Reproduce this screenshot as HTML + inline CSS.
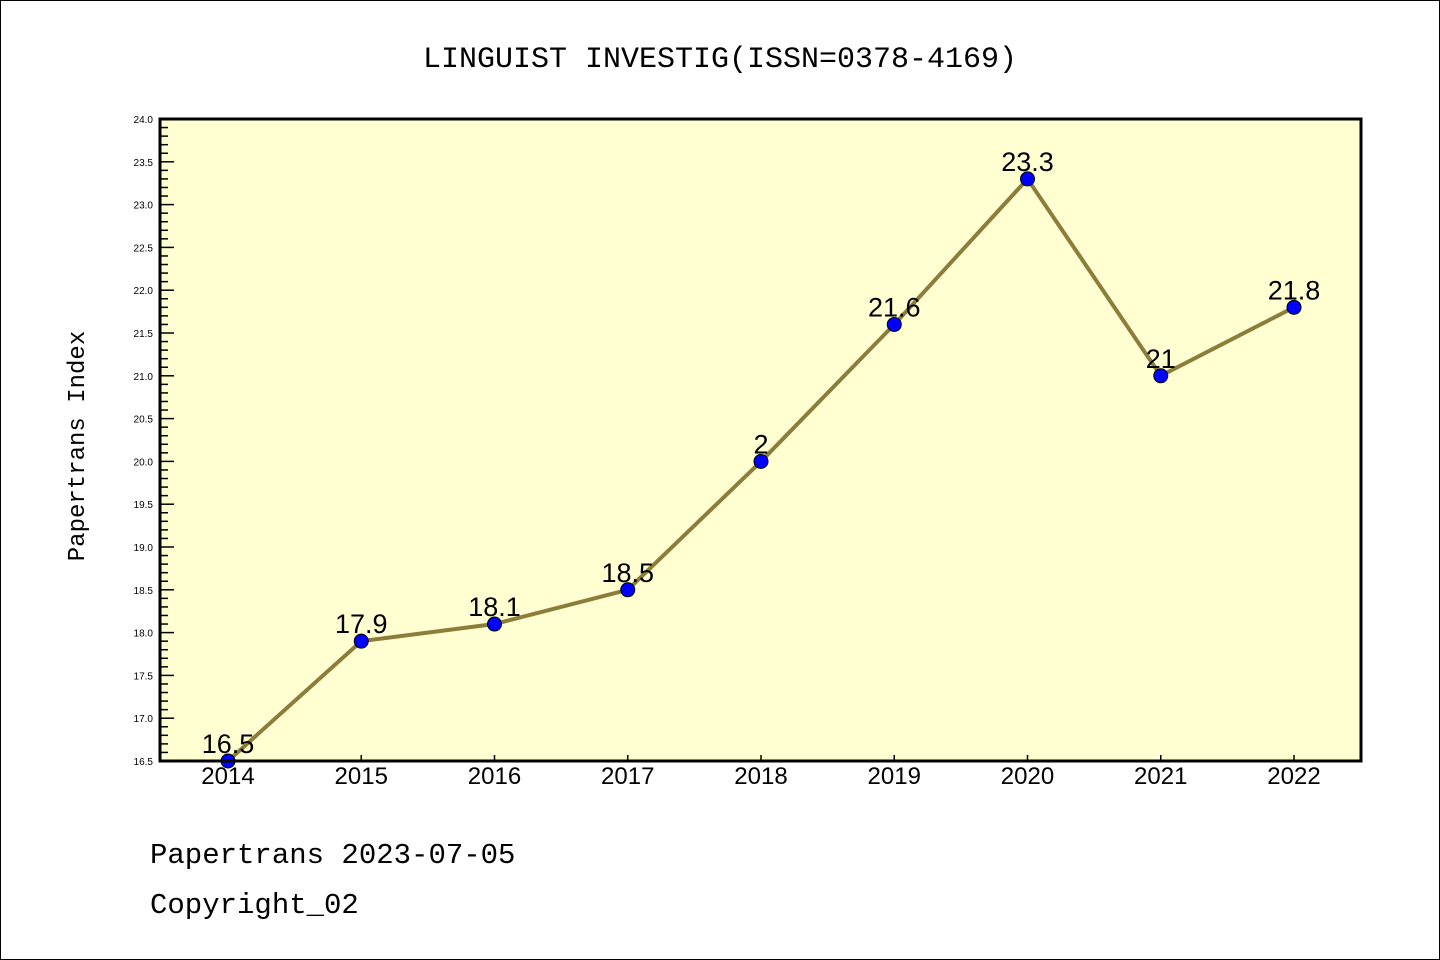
<!DOCTYPE html>
<html><head><meta charset="utf-8"><style>
body{margin:0;background:#fff}
svg{display:block;font-family:"Liberation Sans","DejaVu Sans",sans-serif}
</style></head><body>
<svg id="c" width="1440" height="960" viewBox="0 0 1440 960">
<rect x="0.5" y="0.5" width="1439" height="959" fill="#fff" stroke="#000"/>
<text x="720" y="67" text-anchor="middle" font-size="30" font-family="Liberation Mono, monospace">LINGUIST INVESTIG(ISSN=0378-4169)</text>
<rect x="160" y="119" width="1201" height="642" fill="#ffffd2"/>
<g id="ticks"></g>
<g id="marks"></g>
<rect x="160" y="119" width="1201" height="642" fill="none" stroke="#000" stroke-width="3"/>
<text transform="translate(84,446) rotate(-90)" text-anchor="middle" font-size="24" font-family="Liberation Mono, monospace">Papertrans Index</text>
<text x="150" y="863" font-size="29" font-family="Liberation Mono, monospace">Papertrans 2023-07-05</text>
<text x="150" y="913" font-size="29" font-family="Liberation Mono, monospace">Copyright_02</text>
</svg>
<script>
const years = ["2014","2015","2016","2017","2018","2019","2020","2021","2022"];
const values = [16.5,17.9,18.1,18.5,20,21.6,23.3,21,21.8];
const valueLabels = ["16.5","17.9","18.1","18.5","2","21.6","23.3","21","21.8"];
const yTicks = [16.5,17.0,17.5,18.0,18.5,19.0,19.5,20.0,20.5,21.0,21.5,22.0,22.5,23.0,23.5,24.0];
const yMin=16.5,yMax=24.0,plotTop=119,plotBot=761;
const xs=i=>228+i*(1294-228)/(years.length-1);
const ys=v=>plotBot-(v-yMin)/(yMax-yMin)*(plotBot-plotTop);
const NS="http://www.w3.org/2000/svg";
const T=document.getElementById('ticks'),M=document.getElementById('marks');
function mk(tag,at,p){const e=document.createElementNS(NS,tag);for(const k in at)e.setAttribute(k,at[k]);p.appendChild(e);return e;}
for(let k=0;k<=75;k++){
 const v=yMin+k*0.1;const y=ys(v);const major=k%5===0;
 const l=mk('line',{x1:160,x2:160+(major?14:8),y1:y,y2:y,stroke:'#000','stroke-width':1.5},T);
 
 
}
yTicks.forEach(v=>{
 const t=mk('text',{x:153,y:ys(v)+4,'text-anchor':'end','font-size':10},T);t.textContent=v.toFixed(1);
 
 
});
years.forEach((yr,i)=>{
 const l=mk('line',{x1:xs(i),x2:xs(i),y1:plotBot,y2:plotBot-6,stroke:'#000','stroke-width':1.5},T);
 
 
 const t=mk('text',{x:xs(i),y:784,'text-anchor':'middle','font-size':24},T);t.textContent=yr;
 
 
});
const pl=mk('polyline',{points:values.map((v,i)=>xs(i)+','+ys(v)).join(' '),fill:'none',stroke:'#8c7d3a','stroke-width':4},M);


values.forEach((v,i)=>{
 const c=mk('circle',{cx:xs(i),cy:ys(v),r:7,fill:'#0000ff',stroke:'#000','stroke-width':1},M);
 
 
 const t=mk('text',{x:xs(i),y:ys(v)-8,'text-anchor':'middle','font-size':27},M);t.textContent=valueLabels[i];
 
 
});
</script>
</body></html>
